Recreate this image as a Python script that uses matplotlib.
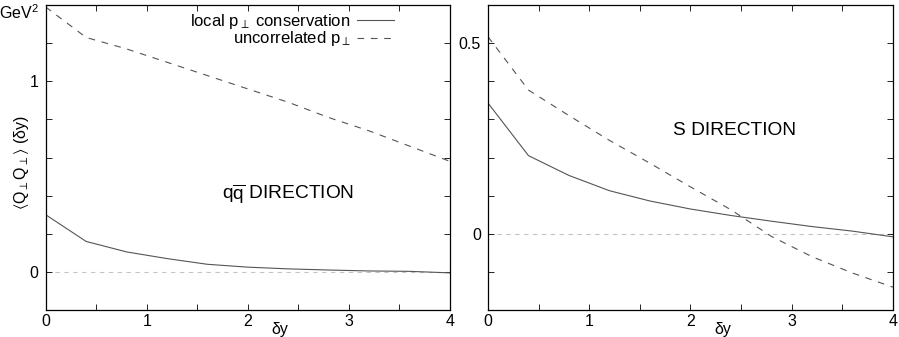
import numpy as np
import matplotlib
matplotlib.use("Agg")
import matplotlib.pyplot as plt
from matplotlib.ticker import MultipleLocator

plt.rcParams['font.family'] = ['Liberation Sans', 'DejaVu Sans']
plt.rcParams['mathtext.fontset'] = 'custom'
plt.rcParams['mathtext.rm'] = 'Liberation Sans'
plt.rcParams['mathtext.it'] = 'Liberation Sans'
plt.rcParams['mathtext.fallback'] = 'stixsans'

# rapidity separation
dy = [0.0, 0.4, 0.8, 1.2, 1.6, 2.0, 2.4, 2.8, 3.2, 3.6, 4.0]

# q-qbar direction
qq_local = [0.30, 0.16, 0.105, 0.07, 0.04, 0.025, 0.016, 0.01, 0.005, 0.003, -0.005]
qq_uncorr = [1.39, 1.23, 1.17, 1.10, 1.03, 0.96, 0.89, 0.81, 0.74, 0.66, 0.58]

# S direction
s_local = [0.343, 0.205, 0.153, 0.113, 0.086, 0.065, 0.048, 0.033, 0.019, 0.007, -0.008]
s_uncorr = [0.517, 0.377, 0.31, 0.245, 0.185, 0.123, 0.063, -0.007, -0.06, -0.103, -0.14]

line_col = '#555555'
fs_tick = 11.5

fig = plt.figure(figsize=(8.99, 3.37), dpi=100)
ax1 = fig.add_axes([0.0508, 0.080, 0.4497, 0.905])
ax2 = fig.add_axes([0.5428, 0.080, 0.4505, 0.905])


def style_axis(ax, ylim, yticks, ylabels, yminor):
    ax.set_xlim(0, 4)
    ax.set_ylim(*ylim)
    ax.xaxis.set_major_locator(MultipleLocator(1))
    ax.xaxis.set_minor_locator(MultipleLocator(0.5))
    ax.set_yticks(yticks, ylabels)
    ax.yaxis.set_minor_locator(MultipleLocator(yminor))
    ax.tick_params(which='both', direction='in', top=True, right=True,
                   labelsize=fs_tick)
    ax.tick_params(axis='x', pad=3)
    ax.tick_params(axis='y', pad=5)
    ax.tick_params(which='major', length=4, width=0.6)
    ax.tick_params(which='minor', length=4, width=0.6)
    for sp in ax.spines.values():
        sp.set_linewidth(0.9)
    ax.axhline(0, color='#c4c4c4', lw=0.8, ls=(0, (4, 4)), zorder=1)
    ax.text(0.58, -0.038, 'δy', fontsize=fs_tick, ha='center', va='top',
            transform=ax.transAxes)


# left panel
style_axis(ax1, (-0.2, 1.4), [0, 1], ['0', '1'], 0.2)
ax1.plot(dy, qq_local, color=line_col, lw=0.8, label=r'local p$_\perp$ conservation')
ax1.plot(dy, qq_uncorr, color=line_col, lw=0.8, ls=(0, (6, 6)),
         label=r'uncorrelated p$_\perp$')
fig.text(0.024, 0.519, r'$\langle$Q$_\perp$Q$_\perp\rangle$ (δy)', fontsize=fs_tick,
         rotation=90, ha='center', va='center')
ax1.text(-0.07, 1.36, 'GeV$^2$', fontsize=fs_tick, ha='right', va='center',
         transform=ax1.transData)
ax1.text(0.436, 0.38, r'q$\overline{\rm q}$ DIRECTION', fontsize=13.8,
         transform=ax1.transAxes, va='center', ha='left')
ax1.legend(loc='upper right', bbox_to_anchor=(0.862, 0.978), frameon=False,
           markerfirst=False, fontsize=12, handlelength=2.2,
           handletextpad=0.4, labelspacing=-0.08, borderpad=0, borderaxespad=0)

# right panel
style_axis(ax2, (-0.2, 0.6), [0, 0.5], ['0', '0.5'], 0.1)
ax2.plot(dy, s_local, color=line_col, lw=0.8)
ax2.plot(dy, s_uncorr, color=line_col, lw=0.8, ls=(0, (6, 6)))
ax2.text(0.457, 0.59, 'S DIRECTION', fontsize=13.8,
         transform=ax2.transAxes, va='center', ha='left')

fig.savefig('out.png', dpi=100)
